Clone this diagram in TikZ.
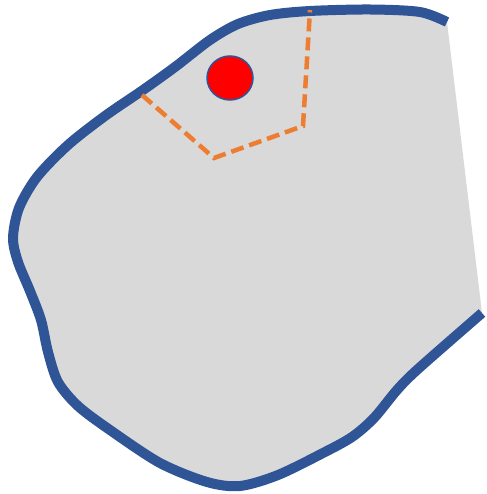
\documentclass[tikz,border=0pt]{standalone}
\usetikzlibrary{shapes.geometric}
\definecolor{bord}{HTML}{2F5597}
\definecolor{fillg}{HTML}{D9D9D9}
\definecolor{orng}{HTML}{ED7D31}
\begin{document}
\begin{tikzpicture}[x=1pt,y=-1pt,
  border/.style={draw=bord,line width=10pt},
  cutline/.style={draw=orng,line width=4.5pt,dash pattern=on 13pt off 6pt},
  dot/.style={draw=bord,line width=1.5pt,fill=red}]
\useasboundingbox (0,0) rectangle (486,494);
\def\outline{(447,22) (420,12) (370,9.5) (310,11) (270,15) (238,24) (210,40) (175,67) (143,90) (105,116) (68,145) (37,177) (19,208) (13,238) (18,262) (30,291) (41,320) (48,352) (58,382) (78,406) (110,430) (160,463) (207,482) (240,486) (278,475) (323,453) (352,437) (374,418) (397,390) (418,369) (482,313)}
\fill[fillg] plot[smooth,tension=0.5] coordinates {\outline} -- cycle;
\draw[border] plot[smooth,tension=0.5] coordinates {\outline};
\coordinate (p1) at (142,95);
\coordinate (p2) at (214,158);
\coordinate (p3) at (303,126);
\coordinate (p4) at (310,10);
\draw[cutline] (p1) -- (p2) -- (p3) -- (p4);
\node[dot,ellipse,minimum width=46pt,minimum height=44pt,inner sep=0pt] (r) at (230,78) {};
\end{tikzpicture}
\end{document}
